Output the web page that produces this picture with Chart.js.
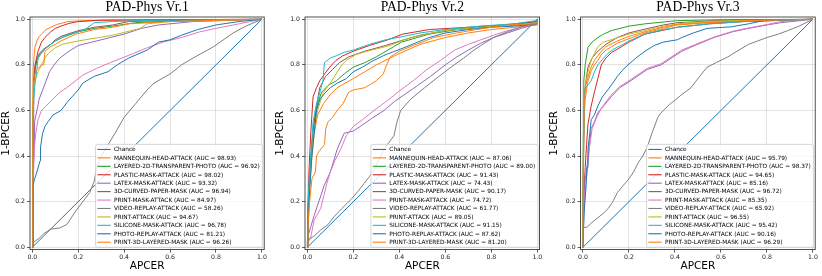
<!DOCTYPE html>
<html>
<head>
<meta charset="utf-8">
<script src="https://cdn.jsdelivr.net/npm/chart.js@4.4.1/dist/chart.umd.min.js"></script>
<style>
  html,body{margin:0;padding:0;background:#fff;}
  #wrap{position:relative;width:822px;height:276px;overflow:hidden;}
  canvas{position:absolute;top:0;}
</style>
</head>
<body>
<div id="wrap">
  <canvas id="c1" width="274" height="276" style="left:0px;width:274px;height:276px"></canvas>
  <canvas id="c2" width="274" height="276" style="left:274px;width:274px;height:276px"></canvas>
  <canvas id="c3" width="274" height="276" style="left:548px;width:274px;height:276px"></canvas>
</div>
<script>
// ---------------- DATA ----------------
const panelTitles = ["PAD-Phys Vr.1", "PAD-Phys Vr.2", "PAD-Phys Vr.3"];
const attackNames = ["MANNEQUIN-HEAD-ATTACK","LAYERED-2D-TRANSPARENT-PHOTO","PLASTIC-MASK-ATTACK","LATEX-MASK-ATTACK","3D-CURVED-PAPER-MASK","PRINT-MASK-ATTACK","VIDEO-REPLAY-ATTACK","PRINT-ATTACK","SILICONE-MASK-ATTACK","PHOTO-REPLAY-ATTACK","PRINT-3D-LAYERED-MASK"];
const aucV1 = [98.93, 96.92, 98.02, 93.32, 96.94, 84.97, 58.26, 94.67, 96.78, 81.21, 96.26];
const aucV2 = [87.06, 89.00, 91.43, 74.43, 90.17, 74.72, 61.77, 89.05, 91.15, 87.62, 81.20];
const aucV3 = [95.79, 98.37, 94.65, 85.16, 96.72, 85.35, 65.92, 96.55, 95.42, 90.16, 96.29];
const tickValues = [0.0, 0.2, 0.4, 0.6, 0.8, 1.0];
const chanceCurve = [[0,0],[1,1]];

// Vr.1 ROC curves: [APCER, 1-BPCER]
const v1Mannequin = [[0,0],[0.002,0.55],[0.004,0.78],[0.008,0.84],[0.012,0.88],[0.02,0.905],[0.03,0.925],[0.04,0.935],[0.06,0.955],[0.08,0.965],[0.11,0.978],[0.155,0.99],[0.25,0.995],[0.5,0.998],[1,1]];
const v1Layered = [[0,0],[0.003,0.5],[0.006,0.72],[0.012,0.78],[0.02,0.82],[0.035,0.85],[0.06,0.875],[0.08,0.89],[0.1,0.905],[0.13,0.92],[0.2,0.945],[0.27,0.96],[0.35,0.97],[0.45,0.985],[0.6,0.992],[0.8,0.997],[1,1]];
const v1Plastic = [[0,0],[0.003,0.02],[0.004,0.5],[0.006,0.72],[0.012,0.8],[0.025,0.86],[0.04,0.9],[0.055,0.92],[0.08,0.945],[0.1,0.96],[0.125,0.97],[0.16,0.982],[0.2,0.99],[0.3,0.996],[1,1]];
const v1Latex = [[0,0],[0.002,0.1],[0.005,0.3],[0.008,0.45],[0.01,0.55],[0.02,0.6],[0.03,0.65],[0.045,0.69],[0.06,0.73],[0.075,0.77],[0.095,0.8],[0.12,0.83],[0.16,0.86],[0.2,0.885],[0.3,0.91],[0.4,0.935],[0.475,0.96],[0.55,0.975],[0.7,0.99],[1,1]];
const v1PrintMask = [[0,0],[0.002,0.2],[0.005,0.35],[0.01,0.45],[0.015,0.5],[0.025,0.56],[0.04,0.6],[0.06,0.62],[0.09,0.65],[0.12,0.68],[0.15,0.70],[0.22,0.755],[0.28,0.785],[0.34,0.81],[0.44,0.85],[0.5,0.875],[0.57,0.9],[0.65,0.92],[0.73,0.945],[0.8,0.96],[0.875,0.975],[0.95,0.99],[1,1]];
const v1VideoReplay = [[0,0],[0.003,0.02],[0.03,0.04],[0.05,0.06],[0.08,0.08],[0.12,0.085],[0.15,0.1],[0.19,0.16],[0.22,0.2],[0.25,0.24],[0.27,0.29],[0.28,0.35],[0.3,0.4],[0.33,0.45],[0.36,0.5],[0.4,0.57],[0.45,0.63],[0.5,0.69],[0.53,0.72],[0.6,0.76],[0.65,0.8],[0.7,0.83],[0.79,0.88],[0.875,0.94],[0.93,0.97],[1,1]];
const v1PrintAttack = [[0,0],[0.002,0.4],[0.004,0.65],[0.008,0.72],[0.015,0.74],[0.025,0.77],[0.04,0.8],[0.055,0.83],[0.07,0.85],[0.1,0.875],[0.13,0.89],[0.2,0.905],[0.29,0.92],[0.35,0.93],[0.41,0.945],[0.47,0.96],[0.5,0.98],[0.6,0.99],[1,1]];
const v1Silicone = [[0,0],[0.002,0.45],[0.004,0.6],[0.01,0.7],[0.02,0.78],[0.025,0.83],[0.04,0.85],[0.055,0.87],[0.08,0.89],[0.1,0.905],[0.15,0.93],[0.23,0.955],[0.27,0.985],[0.35,0.99],[0.5,0.995],[1,1]];
const v1Curved = [[0,0],[0.003,0.5],[0.006,0.7],[0.012,0.78],[0.02,0.83],[0.03,0.85],[0.05,0.87],[0.08,0.89],[0.1,0.91],[0.125,0.925],[0.2,0.95],[0.27,0.965],[0.35,0.975],[0.42,0.99],[0.6,0.995],[1,1]];
const v1PhotoReplay = [[0,0],[0.003,0.27],[0.01,0.3],[0.02,0.33],[0.034,0.38],[0.036,0.44],[0.045,0.5],[0.055,0.53],[0.068,0.55],[0.09,0.58],[0.125,0.6],[0.155,0.64],[0.2,0.69],[0.22,0.72],[0.27,0.75],[0.33,0.77],[0.37,0.8],[0.42,0.83],[0.5,0.865],[0.55,0.9],[0.6,0.91],[0.65,0.93],[0.72,0.955],[0.8,0.975],[0.9,0.99],[1,1]];
const v1Print3D = [[0,0],[0.002,0.5],[0.005,0.72],[0.012,0.76],[0.02,0.78],[0.04,0.8],[0.05,0.8],[0.055,0.86],[0.08,0.88],[0.1,0.89],[0.125,0.905],[0.19,0.935],[0.27,0.955],[0.35,0.965],[0.42,0.98],[0.6,0.99],[0.8,0.995],[1,1]];

// Vr.2 ROC curves
const v2Mannequin = [[0,0],[0.005,0.1],[0.01,0.25],[0.02,0.4],[0.03,0.5],[0.045,0.58],[0.07,0.63],[0.1,0.67],[0.13,0.70],[0.2,0.74],[0.25,0.77],[0.3,0.8],[0.39,0.845],[0.49,0.89],[0.6,0.92],[0.7,0.94],[0.8,0.955],[0.9,0.965],[1,0.975],[1,1]];
const v2Layered = [[0,0],[0.003,0.15],[0.01,0.3],[0.02,0.45],[0.03,0.55],[0.045,0.63],[0.062,0.68],[0.09,0.71],[0.126,0.73],[0.16,0.76],[0.2,0.79],[0.25,0.81],[0.3,0.835],[0.35,0.865],[0.41,0.9],[0.53,0.935],[0.65,0.955],[0.8,0.97],[0.9,0.975],[1,0.985],[1,1]];
const v2Plastic = [[0,0],[0.002,0.15],[0.008,0.35],[0.015,0.5],[0.025,0.66],[0.04,0.7],[0.054,0.73],[0.075,0.76],[0.097,0.79],[0.125,0.82],[0.155,0.84],[0.2,0.86],[0.27,0.885],[0.35,0.91],[0.415,0.935],[0.53,0.955],[0.7,0.965],[0.85,0.975],[1,0.99],[1,1]];
const v2Latex = [[0,0],[0.003,0.05],[0.015,0.09],[0.03,0.14],[0.043,0.18],[0.06,0.23],[0.073,0.27],[0.1,0.33],[0.115,0.38],[0.13,0.43],[0.16,0.5],[0.2,0.51],[0.23,0.53],[0.28,0.565],[0.333,0.6],[0.38,0.64],[0.43,0.675],[0.48,0.71],[0.536,0.75],[0.6,0.8],[0.65,0.835],[0.7,0.865],[0.754,0.895],[0.81,0.92],[0.87,0.94],[0.93,0.96],[1,0.98],[1,1]];
const v2Curved = [[0,0],[0.003,0.15],[0.01,0.3],[0.02,0.45],[0.03,0.55],[0.04,0.62],[0.054,0.70],[0.08,0.75],[0.11,0.78],[0.14,0.81],[0.18,0.835],[0.25,0.86],[0.34,0.885],[0.42,0.91],[0.49,0.93],[0.6,0.95],[0.75,0.965],[0.9,0.975],[1,0.99],[1,1]];
const v2PrintMask = [[0,0],[0.003,0.02],[0.015,0.045],[0.03,0.12],[0.058,0.17],[0.073,0.23],[0.085,0.28],[0.1,0.33],[0.12,0.38],[0.145,0.43],[0.17,0.49],[0.2,0.53],[0.24,0.56],[0.29,0.6],[0.35,0.645],[0.406,0.69],[0.46,0.73],[0.52,0.78],[0.58,0.82],[0.64,0.865],[0.7,0.89],[0.754,0.91],[0.81,0.93],[0.87,0.95],[0.93,0.965],[1,0.985],[1,1]];
const v2VideoReplay = [[0,0],[0,0.03],[0.03,0.05],[0.058,0.076],[0.09,0.1],[0.116,0.134],[0.15,0.17],[0.19,0.21],[0.22,0.245],[0.247,0.28],[0.27,0.31],[0.29,0.34],[0.31,0.38],[0.333,0.43],[0.355,0.46],[0.377,0.49],[0.39,0.55],[0.406,0.6],[0.45,0.65],[0.51,0.7],[0.56,0.74],[0.625,0.79],[0.68,0.83],[0.725,0.865],[0.77,0.895],[0.81,0.92],[0.87,0.945],[0.93,0.967],[1,0.99],[1,1]];
const v2PrintAttack = [[0,0],[0.003,0.12],[0.01,0.28],[0.02,0.42],[0.03,0.52],[0.045,0.6],[0.06,0.65],[0.07,0.68],[0.1,0.72],[0.125,0.76],[0.15,0.8],[0.17,0.82],[0.21,0.845],[0.26,0.86],[0.3,0.87],[0.36,0.885],[0.42,0.91],[0.49,0.93],[0.6,0.95],[0.75,0.965],[0.9,0.975],[1,0.985],[1,1]];
const v2Silicone = [[0,0],[0.002,0.15],[0.008,0.3],[0.015,0.4],[0.025,0.55],[0.04,0.63],[0.055,0.68],[0.068,0.73],[0.072,0.78],[0.075,0.81],[0.1,0.83],[0.126,0.84],[0.16,0.855],[0.2,0.865],[0.27,0.89],[0.34,0.91],[0.42,0.925],[0.49,0.94],[0.6,0.955],[0.75,0.97],[0.9,0.98],[1,0.995],[1,1]];
const v2PhotoReplay = [[0,0],[0.003,0.12],[0.01,0.25],[0.02,0.4],[0.03,0.5],[0.04,0.6],[0.055,0.65],[0.08,0.68],[0.1,0.70],[0.13,0.72],[0.17,0.74],[0.2,0.77],[0.24,0.79],[0.28,0.815],[0.33,0.84],[0.38,0.86],[0.42,0.875],[0.48,0.9],[0.53,0.92],[0.6,0.94],[0.7,0.955],[0.8,0.965],[0.9,0.97],[1,0.98],[1,1]];
const v2Print3D = [[0,0],[0.003,0.1],[0.01,0.2],[0.02,0.3],[0.035,0.33],[0.04,0.4],[0.05,0.42],[0.075,0.45],[0.08,0.52],[0.09,0.55],[0.11,0.57],[0.13,0.6],[0.155,0.63],[0.18,0.68],[0.2,0.69],[0.25,0.7],[0.3,0.73],[0.33,0.76],[0.345,0.8],[0.36,0.835],[0.4,0.86],[0.46,0.885],[0.55,0.92],[0.65,0.94],[0.725,0.953],[0.8,0.965],[0.87,0.975],[1,0.98],[1,1]];

// Vr.3 ROC curves
const v3Mannequin = [[0,0],[0.002,0.3],[0.005,0.55],[0.01,0.65],[0.02,0.72],[0.036,0.775],[0.05,0.8],[0.065,0.82],[0.08,0.845],[0.1,0.865],[0.15,0.895],[0.2,0.915],[0.27,0.94],[0.35,0.96],[0.41,0.975],[0.55,0.985],[0.7,0.99],[1,1]];
const v3Layered = [[0,0],[0.002,0.5],[0.004,0.73],[0.01,0.8],[0.022,0.877],[0.04,0.9],[0.065,0.92],[0.09,0.935],[0.123,0.95],[0.2,0.97],[0.27,0.98],[0.41,0.994],[0.6,0.998],[1,1]];
const v3Plastic = [[0,0],[0.003,0.2],[0.01,0.35],[0.016,0.45],[0.022,0.54],[0.036,0.62],[0.05,0.68],[0.065,0.74],[0.08,0.8],[0.1,0.83],[0.125,0.855],[0.152,0.87],[0.2,0.9],[0.27,0.935],[0.41,0.965],[0.55,0.98],[0.7,0.99],[1,1]];
const v3Latex = [[0,0],[0.003,0.15],[0.007,0.28],[0.015,0.33],[0.022,0.39],[0.036,0.52],[0.05,0.55],[0.065,0.59],[0.09,0.62],[0.123,0.66],[0.16,0.7],[0.2,0.725],[0.28,0.78],[0.34,0.80],[0.43,0.86],[0.486,0.885],[0.57,0.92],[0.65,0.945],[0.72,0.96],[0.8,0.975],[0.86,0.985],[1,1]];
const v3Curved = [[0,0],[0.002,0.4],[0.006,0.65],[0.012,0.72],[0.022,0.79],[0.04,0.83],[0.065,0.86],[0.1,0.89],[0.15,0.92],[0.2,0.94],[0.27,0.957],[0.35,0.975],[0.41,0.985],[0.6,0.995],[1,1]];
const v3PrintMask = [[0,0],[0.005,0.15],[0.01,0.25],[0.02,0.35],[0.03,0.45],[0.04,0.52],[0.06,0.57],[0.08,0.61],[0.12,0.665],[0.16,0.705],[0.2,0.73],[0.28,0.785],[0.34,0.805],[0.43,0.865],[0.49,0.89],[0.57,0.922],[0.65,0.947],[0.72,0.962],[0.8,0.977],[0.86,0.99],[1,1]];
const v3VideoReplay = [[0,0],[0,0.085],[0.02,0.09],[0.04,0.11],[0.065,0.13],[0.09,0.15],[0.11,0.17],[0.13,0.2],[0.15,0.24],[0.17,0.265],[0.196,0.295],[0.22,0.33],[0.24,0.37],[0.26,0.4],[0.28,0.44],[0.3,0.5],[0.326,0.57],[0.34,0.59],[0.38,0.63],[0.4,0.645],[0.43,0.67],[0.47,0.7],[0.5,0.74],[0.54,0.79],[0.58,0.81],[0.63,0.835],[0.67,0.86],[0.72,0.89],[0.76,0.905],[0.8,0.92],[0.85,0.935],[0.89,0.95],[0.94,0.97],[1,1]];
const v3PrintAttack = [[0,0],[0.002,0.4],[0.005,0.65],[0.012,0.72],[0.025,0.78],[0.036,0.82],[0.05,0.85],[0.065,0.88],[0.09,0.9],[0.123,0.91],[0.2,0.935],[0.27,0.95],[0.35,0.97],[0.45,0.985],[0.6,0.993],[1,1]];
const v3Silicone = [[0,0],[0.002,0.3],[0.005,0.6],[0.007,0.69],[0.02,0.71],[0.036,0.73],[0.05,0.77],[0.065,0.8],[0.09,0.83],[0.108,0.85],[0.135,0.87],[0.166,0.885],[0.2,0.905],[0.27,0.935],[0.35,0.955],[0.41,0.965],[0.55,0.98],[0.7,0.99],[1,1]];
const v3PhotoReplay = [[0,0],[0.005,0.15],[0.014,0.27],[0.018,0.35],[0.022,0.43],[0.03,0.5],[0.036,0.56],[0.05,0.58],[0.065,0.62],[0.085,0.66],[0.108,0.69],[0.13,0.72],[0.15,0.75],[0.175,0.78],[0.196,0.80],[0.23,0.83],[0.27,0.86],[0.31,0.885],[0.35,0.9],[0.41,0.91],[0.43,0.92],[0.48,0.94],[0.54,0.96],[0.645,0.967],[0.72,0.98],[0.79,0.995],[1,1]];
const v3Print3D = [[0,0],[0.002,0.35],[0.005,0.6],[0.01,0.7],[0.02,0.74],[0.036,0.79],[0.05,0.82],[0.065,0.84],[0.08,0.86],[0.1,0.88],[0.15,0.905],[0.2,0.925],[0.27,0.945],[0.35,0.965],[0.41,0.978],[0.55,0.987],[0.7,0.993],[1,1]];

const curvesV1 = [v1Mannequin,v1Layered,v1Plastic,v1Latex,v1Curved,v1PrintMask,v1VideoReplay,v1PrintAttack,v1Silicone,v1PhotoReplay,v1Print3D];
const curvesV2 = [v2Mannequin,v2Layered,v2Plastic,v2Latex,v2Curved,v2PrintMask,v2VideoReplay,v2PrintAttack,v2Silicone,v2PhotoReplay,v2Print3D];
const curvesV3 = [v3Mannequin,v3Layered,v3Plastic,v3Latex,v3Curved,v3PrintMask,v3VideoReplay,v3PrintAttack,v3Silicone,v3PhotoReplay,v3Print3D];

// ---------------- STYLE ----------------
const tab10 = ['#1f77b4','#ff7f0e','#2ca02c','#d62728','#9467bd','#8c564b','#e377c2','#7f7f7f','#bcbd22','#17becf'];
// geometry of each panel inside its 274px canvas: [frameLeft, frameRight]
const frames = [[30,264.2],[31,265.6],[32.6,267.2]];
const FRAME_TOP = 17, FRAME_BOTTOM = 249.6, CW = 274, CH = 276;

const framePlugin = {
  id:'frame',
  afterDatasetsDraw(chart){
    const a = chart.chartArea, ctx = chart.ctx;
    ctx.save();
    ctx.strokeStyle = '#262626'; ctx.lineWidth = 0.8;
    ctx.strokeRect(a.left, a.top, a.right-a.left, a.bottom-a.top);
    ctx.restore();
  }
};

const legendPlugin = {
  id:'insideLegend',
  afterDatasetsDraw(chart){
    const ctx = chart.ctx, a = chart.chartArea;
    const ds = chart.data.datasets;
    ctx.save();
    ctx.font = '5.8px "DejaVu Sans"';
    const labels = ds.map(d=>d.label);
    const maxW = Math.max(...labels.map(t=>ctx.measureText(t).width));
    const rowH = 8.43, padX = 1.8, handle = 13.3, gap = 3.3, padY = 5.1;
    const w = padX + handle + gap + maxW + padX + 1;
    const h = padY*2 + rowH*(labels.length-1);
    const x = a.right - 1.6 - w, y = a.bottom - 2.3 - h;
    const r = 2;
    ctx.beginPath();
    ctx.moveTo(x+r,y); ctx.lineTo(x+w-r,y); ctx.arcTo(x+w,y,x+w,y+r,r);
    ctx.lineTo(x+w,y+h-r); ctx.arcTo(x+w,y+h,x+w-r,y+h,r);
    ctx.lineTo(x+r,y+h); ctx.arcTo(x,y+h,x,y+h-r,r);
    ctx.lineTo(x,y+r); ctx.arcTo(x,y,x+r,y,r); ctx.closePath();
    ctx.fillStyle = 'rgba(255,255,255,0.8)'; ctx.fill();
    ctx.strokeStyle = '#cccccc'; ctx.lineWidth = 0.8; ctx.stroke();
    ctx.textBaseline = 'middle'; ctx.textAlign = 'left';
    labels.forEach((t,i)=>{
      const cy = y + padY + i*rowH;
      ctx.strokeStyle = ds[i].borderColor; ctx.lineWidth = 1.1;
      ctx.beginPath(); ctx.moveTo(x+padX, cy); ctx.lineTo(x+padX+handle, cy); ctx.stroke();
      ctx.fillStyle = '#000';
      ctx.fillText(t, x+padX+handle+gap, cy+0.3);
    });
    ctx.restore();
  }
};

const titlePlugin = {
  id:'panelTitle',
  afterDraw(chart){
    const ctx = chart.ctx, a = chart.chartArea;
    ctx.save();
    ctx.font = '13.6px "Liberation Serif"';
    ctx.fillStyle = '#000'; ctx.textAlign = 'center'; ctx.textBaseline = 'alphabetic';
    ctx.fillText(chart.options.plugins.panelTitle.text, (a.left+a.right)/2, 10.6);
    ctx.restore();
  }
};

function makePanel(canvasId, idx, curves, aucs){
  const [fl, fr] = frames[idx];
  const datasets = [{label:'Chance', data:chanceCurve.map(p=>({x:p[0],y:p[1]})), borderColor:tab10[0]}];
  curves.forEach((c,i)=>{
    datasets.push({
      label: attackNames[i] + ' (AUC = ' + aucs[i].toFixed(2) + ')',
      data: c.map(p=>({x:p[0], y:p[1]})),
      borderColor: tab10[(i+1)%10]
    });
  });
  const n = datasets.length;
  datasets.forEach((d,i)=>{
    d.showLine = true; d.pointRadius = 0; d.borderWidth = 1; d.tension = 0; d.fill = false;
    d.order = n - i;
  });
  const tickFont = {family:'DejaVu Sans', size:6.2};
  const gridCfg = {color:'rgba(176,176,176,0.45)', lineWidth:0.8, tickLength:3, tickColor:'#333', drawTicks:true};
  new Chart(document.getElementById(canvasId), {
    type:'scatter',
    data:{datasets},
    options:{
      responsive:false, animation:false, devicePixelRatio:1,
      layout:{padding:{left:0, right:CW-fr, top:FRAME_TOP, bottom:0}},
      plugins:{legend:{display:false}, tooltip:{enabled:false}, title:{display:false},
               panelTitle:{text:panelTitles[idx]}},
      scales:{
        x:{type:'linear', min:-0.01, max:1.01,
           afterBuildTicks:s=>{ s.ticks = tickValues.map(v=>({value:v})); },
           ticks:{callback:v=>Number(v).toFixed(1), font:tickFont, color:'#222', padding:1, autoSkip:false, maxRotation:0},
           grid:gridCfg, border:{display:false},
           title:{display:true, text:'APCER', font:{family:'DejaVu Sans', size:10.5}, color:'#000', padding:{top:0,bottom:3}},
           afterFit:s=>{ s.height = CH - FRAME_BOTTOM; }},
        y:{type:'linear', min:-0.01, max:1.01,
           afterBuildTicks:s=>{ s.ticks = tickValues.map(v=>({value:v})); },
           ticks:{callback:v=>Number(v).toFixed(1), font:tickFont, color:'#222', padding:2, autoSkip:false},
           grid:gridCfg, border:{display:false},
           title:{display:true, text:'1-BPCER', font:{family:'DejaVu Sans', size:10.5}, color:'#000', padding:{top:0,bottom:0}},
           afterFit:s=>{ s.width = fl; }}
      }
    },
    plugins:[framePlugin, legendPlugin, titlePlugin]
  });
}

makePanel('c1', 0, curvesV1, aucV1);
makePanel('c2', 1, curvesV2, aucV2);
makePanel('c3', 2, curvesV3, aucV3);
</script>
</body>
</html>
